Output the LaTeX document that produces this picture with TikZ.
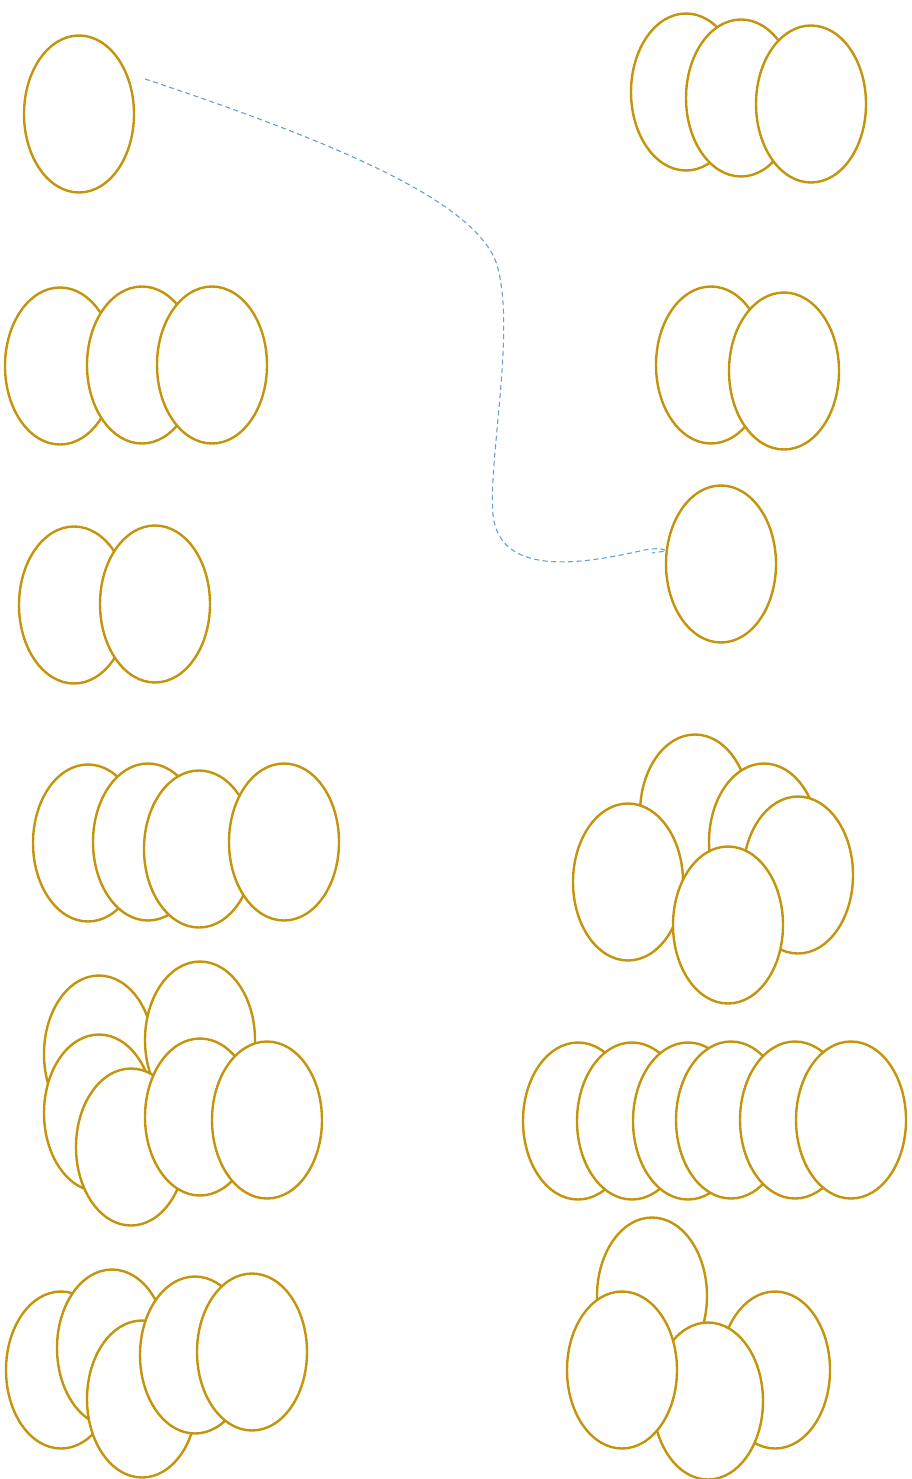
\documentclass[tikz,border=0pt]{standalone}
\usetikzlibrary{shapes.geometric}
\definecolor{gold}{RGB}{196,148,12}
\definecolor{lblue}{RGB}{100,160,220}
\tikzset{
  egg/.style={ellipse, draw=gold, fill=white, line width=2.4pt, minimum width=110pt, minimum height=157pt, inner sep=0pt, outer sep=0pt},
  link/.style={draw=lblue, line width=1.1pt, dash pattern=on 5pt off 3.5pt}
}
\begin{document}
\begin{tikzpicture}[x=1pt,y=-1pt]
\useasboundingbox (0,0) rectangle (911,1479);
% group 1
\node[egg] (g1) at (79,114) {};
% group 2
\node[egg] (a1) at (686,92) {};
\node[egg] (a2) at (741,98) {};
\node[egg] (a3) at (811,104) {};
% group 3
\node[egg] (b1) at (60,366) {};
\node[egg] (b2) at (142,365) {};
\node[egg] (b3) at (212,365) {};
% group 4
\node[egg] (c1) at (711,365) {};
\node[egg] (c2) at (784,371) {};
% group 5
\node[egg] (d1) at (74,605) {};
\node[egg] (d2) at (155,604) {};
% group 6
\node[egg] (g6) at (721,564) {};
% group 7
\node[egg] (e1) at (88,843) {};
\node[egg] (e2) at (148,842) {};
\node[egg] (e3) at (199,849) {};
\node[egg] (e4) at (284,842) {};
% group 8
\node[egg] (f1) at (695,813) {};
\node[egg] (f2) at (764,842) {};
\node[egg] (f3) at (798,875) {};
\node[egg] (f4) at (628,882) {};
\node[egg] (f5) at (728,925) {};
% group 9
\node[egg] (h1) at (99,1054) {};
\node[egg] (h2) at (200,1040) {};
\node[egg] (h3) at (99,1113) {};
\node[egg] (h4) at (131,1147) {};
\node[egg] (h5) at (200,1117) {};
\node[egg] (h6) at (267,1120) {};
% group 10
\node[egg] (i1) at (578,1121) {};
\node[egg] (i2) at (632,1121) {};
\node[egg] (i3) at (688,1121) {};
\node[egg] (i4) at (731,1120) {};
\node[egg] (i5) at (795,1120) {};
\node[egg] (i6) at (851,1120) {};
% group 11
\node[egg] (j1) at (61,1370) {};
\node[egg] (j2) at (112,1348) {};
\node[egg] (j3) at (142,1399) {};
\node[egg] (j4) at (195,1355) {};
\node[egg] (j5) at (252,1352) {};
% group 12
\node[egg] (k1) at (652,1296) {};
\node[egg] (k2) at (775,1370) {};
\node[egg] (k3) at (708,1401) {};
\node[egg] (k4) at (622,1370) {};
% connector
\coordinate (s) at (145,79);
\coordinate (t) at (666,551);
\draw[link] (s) .. controls (350,147) and (478,205) .. (497,265)
  .. controls (516,330) and (488,460) .. (493,515)
  .. controls (500,580) and (590,562) .. (640,551)
  .. controls (652,548) and (664,548) .. (t) -- (652,553);
\end{tikzpicture}
\end{document}
